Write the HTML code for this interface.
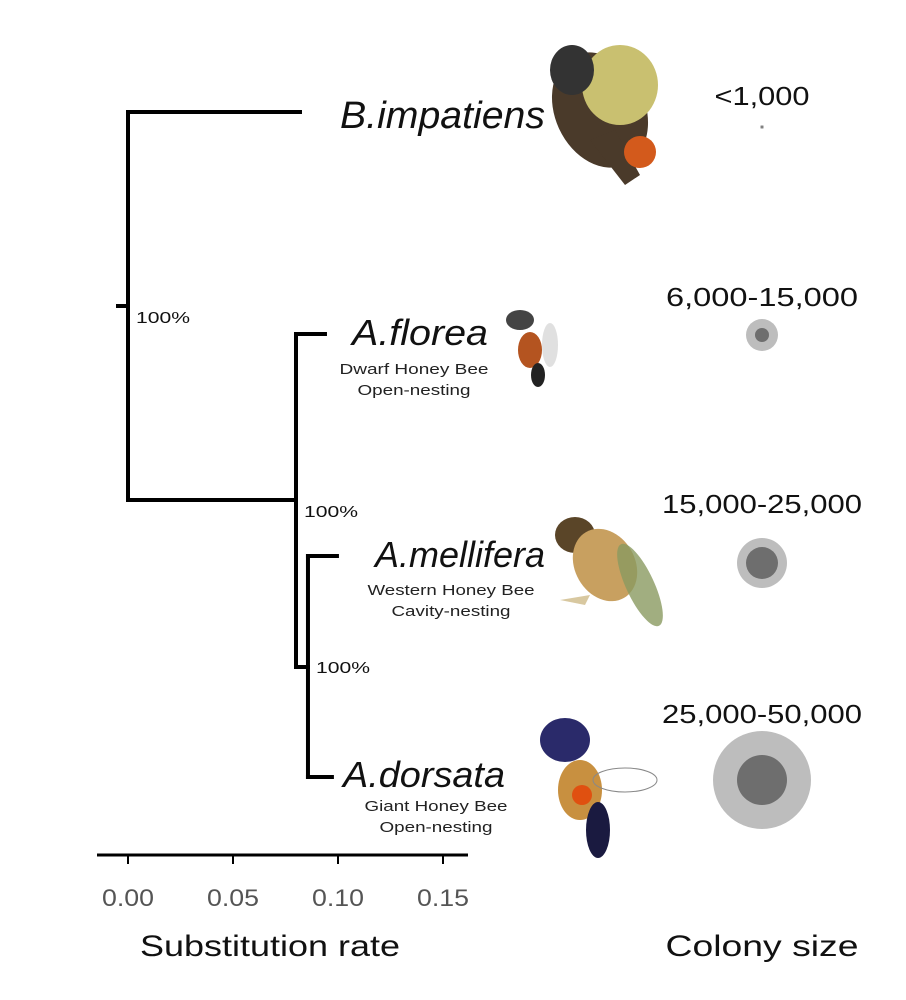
<!DOCTYPE html>
<html><head><meta charset="utf-8">
<style>
html,body{margin:0;padding:0;background:#fff;}
svg{display:block;font-family:"Liberation Sans",Arial,sans-serif;}
</style></head>
<body>
<svg id="chart" width="906" height="1000" viewBox="0 0 906 1000">
<g id="tree"></g>
<g id="axis"></g>
<g id="labels">
  <text x="340" y="128" font-size="38" font-style="italic" fill="#111" textLength="205" lengthAdjust="spacingAndGlyphs">B.impatiens</text>
  <text x="352" y="345" font-size="36" font-style="italic" fill="#111" textLength="136" lengthAdjust="spacingAndGlyphs">A.florea</text>
  <text x="414" y="374" font-size="15" text-anchor="middle" fill="#222" textLength="149" lengthAdjust="spacingAndGlyphs">Dwarf Honey Bee</text>
  <text x="414" y="395" font-size="15" text-anchor="middle" fill="#222" textLength="113" lengthAdjust="spacingAndGlyphs">Open-nesting</text>
  <text x="375" y="567" font-size="36" font-style="italic" fill="#111" textLength="170" lengthAdjust="spacingAndGlyphs">A.mellifera</text>
  <text x="451" y="595" font-size="15" text-anchor="middle" fill="#222" textLength="167" lengthAdjust="spacingAndGlyphs">Western Honey Bee</text>
  <text x="451" y="616" font-size="15" text-anchor="middle" fill="#222" textLength="119" lengthAdjust="spacingAndGlyphs">Cavity-nesting</text>
  <text x="343" y="787" font-size="36" font-style="italic" fill="#111" textLength="162" lengthAdjust="spacingAndGlyphs">A.dorsata</text>
  <text x="436" y="811" font-size="15" text-anchor="middle" fill="#222" textLength="143" lengthAdjust="spacingAndGlyphs">Giant Honey Bee</text>
  <text x="436" y="832" font-size="15" text-anchor="middle" fill="#222" textLength="113" lengthAdjust="spacingAndGlyphs">Open-nesting</text>
</g>
<g id="bees">
  <g>
    <ellipse cx="600" cy="110" rx="45" ry="60" fill="#4a3a2a" transform="rotate(-25 600 110)"/>
    <ellipse cx="620" cy="85" rx="38" ry="40" fill="#c9c070"/>
    <ellipse cx="572" cy="70" rx="22" ry="25" fill="#333"/>
    <path d="M590 140 L625 185 L640 175 L615 130Z" fill="#4a3a2a"/>
    <circle cx="640" cy="152" r="16" fill="#d35a1c"/>
  </g>
  <g>
    <ellipse cx="520" cy="320" rx="14" ry="10" fill="#444"/>
    <ellipse cx="530" cy="350" rx="12" ry="18" fill="#b45420"/>
    <ellipse cx="538" cy="375" rx="7" ry="12" fill="#222"/>
    <ellipse cx="550" cy="345" rx="8" ry="22" fill="#ccc" opacity="0.6"/>
  </g>
  <g>
    <ellipse cx="575" cy="535" rx="20" ry="18" fill="#5a4528"/>
    <ellipse cx="605" cy="565" rx="30" ry="38" fill="#c8a060" transform="rotate(-30 605 565)"/>
    <ellipse cx="640" cy="585" rx="14" ry="45" fill="#8a9a60" opacity="0.8" transform="rotate(-25 640 585)"/>
    <path d="M560 600 L590 595 L585 605 Z" fill="#d8c8a0"/>
  </g>
  <g>
    <ellipse cx="565" cy="740" rx="25" ry="22" fill="#2a2a6a"/>
    <ellipse cx="580" cy="790" rx="22" ry="30" fill="#c89040"/>
    <ellipse cx="598" cy="830" rx="12" ry="28" fill="#1a1a40"/>
    <circle cx="582" cy="795" r="10" fill="#e05010"/>
    <ellipse cx="625" cy="780" rx="32" ry="12" fill="none" stroke="#888" stroke-width="1"/>
  </g>
</g>
<g id="colony">
  <text x="762" y="105" font-size="26" text-anchor="middle" fill="#111" textLength="95" lengthAdjust="spacingAndGlyphs">&lt;1,000</text>
  <text x="762" y="306" font-size="26" text-anchor="middle" fill="#111" textLength="192" lengthAdjust="spacingAndGlyphs">6,000-15,000</text>
  <text x="762" y="513" font-size="26" text-anchor="middle" fill="#111" textLength="200" lengthAdjust="spacingAndGlyphs">15,000-25,000</text>
  <text x="762" y="723" font-size="26" text-anchor="middle" fill="#111" textLength="200" lengthAdjust="spacingAndGlyphs">25,000-50,000</text>
</g>
<text x="270" y="956" font-size="30" text-anchor="middle" fill="#111" textLength="260" lengthAdjust="spacingAndGlyphs">Substitution rate</text>
<text x="762" y="956" font-size="30" text-anchor="middle" fill="#111" textLength="193" lengthAdjust="spacingAndGlyphs">Colony size</text>
</svg>
<script>
const tickValues = [0, 0.05, 0.10, 0.15];
const tickLabels = ["0.00", "0.05", "0.10", "0.15"];
const nodeNames = ["root", "apis", "mellifera-dorsata"];
const nodeDepth = [0, 0.080, 0.0857];
const nodeSupport = ["100%", "100%", "100%"];
const tipNames = ["b-impatiens", "a-florea", "a-mellifera", "a-dorsata"];
const tipDepth = [0.0819, 0.0938, 0.0995, 0.0971];
const tipParent = [0, 1, 2, 2];
const colonyOuter = [2, 16, 25, 49];
const colonyInner = [1, 7, 16, 25];

const NS = "http://www.w3.org/2000/svg";
const x = v => 128 + 2100 * v;
const tipY = [112, 334, 556, 777];
function mk(tag, attrs, parent){const e=document.createElementNS(NS,tag);for(const k in attrs)e.setAttribute(k,attrs[k]);parent.appendChild(e);return e;}
const tree = document.getElementById('tree');
const st = {stroke:"#000","stroke-width":4,fill:"none","stroke-linecap":"square"};
const nodeY = [500, 500, 667];
const nodeParent = [-1, 0, 1];
const nodeTop = [tipY[0], tipY[1], tipY[2]];
const nodeBottom = [nodeY[1], nodeY[2], tipY[3]];
for (let i=0;i<nodeDepth.length;i++){
  const v = mk('line',Object.assign({x1:x(nodeDepth[i]),x2:x(nodeDepth[i]),y1:nodeTop[i],y2:nodeBottom[i]},st),tree);
  
  
  if (nodeParent[i]>=0){
    const h = mk('line',Object.assign({x1:x(nodeDepth[nodeParent[i]]),x2:x(nodeDepth[i]),y1:nodeY[i],y2:nodeY[i]},st),tree);
    
    
  }
}
const stub = mk('line',Object.assign({x1:x(0)-10,x2:x(0),y1:306,y2:306},st),tree);


const supY = [323, 517, 673];
for (let i=0;i<nodeSupport.length;i++){
  const t = mk('text',{x:x(nodeDepth[i])+8,y:supY[i],"font-size":16,fill:"#111",textLength:54,lengthAdjust:"spacingAndGlyphs"},tree);
  t.textContent = nodeSupport[i];
  
  
}
for (let i=0;i<tipNames.length;i++){
  const h = mk('line',Object.assign({x1:x(nodeDepth[tipParent[i]]),x2:x(tipDepth[i]),y1:tipY[i],y2:tipY[i]},st),tree);
  
  
}
const axis = document.getElementById('axis');
const al = mk('line',{x1:97,x2:468,y1:855,y2:855,stroke:"#000","stroke-width":3},axis);


for (let i=0;i<tickValues.length;i++){
  const tk = mk('line',{x1:x(tickValues[i]),x2:x(tickValues[i]),y1:855,y2:864,stroke:"#000","stroke-width":2},axis);
  
  
  const tl = mk('text',{x:x(tickValues[i]),y:906,"font-size":24,"text-anchor":"middle",fill:"#555",textLength:52,lengthAdjust:"spacingAndGlyphs"},axis);
  tl.textContent = tickLabels[i];
  
  
}
const colony = document.getElementById('colony');
const circY = [127, 335, 563, 780];
for (let i=0;i<colonyOuter.length;i++){
  const o = mk('circle',{cx:762,cy:circY[i],r:colonyOuter[i],fill:"#bdbdbd"},colony);
  
  
  const n = mk('circle',{cx:762,cy:circY[i],r:colonyInner[i],fill:"#6e6e6e"},colony);
  
  
}
</script>
</body></html>
